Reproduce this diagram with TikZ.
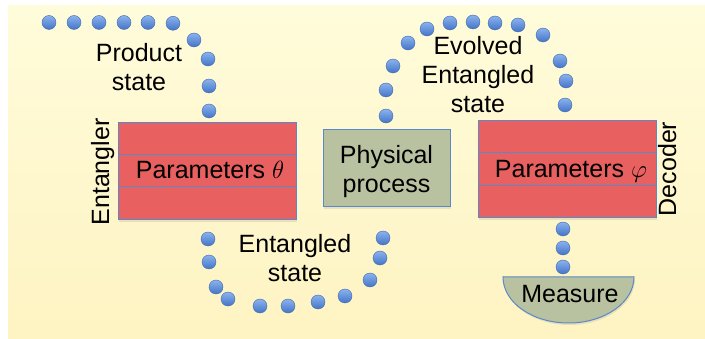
\documentclass[tikz,border=0pt]{standalone}
\usepackage{fontspec}
\setmainfont{Liberation Sans}
\usetikzlibrary{shadows}
\definecolor{bgtop}{HTML}{FFFCDB}
\definecolor{bgbot}{HTML}{FEF3C2}
\definecolor{blockred}{HTML}{E8605F}
\definecolor{edgeblue}{HTML}{5B88C8}
\definecolor{olivebox}{HTML}{B9C2A0}
\definecolor{dottop}{HTML}{8CB3EE}
\definecolor{dotbot}{HTML}{4374C6}
\definecolor{dotedge}{HTML}{3E6AB2}
\tikzset{
  lbl/.style={font=\fontsize{25}{29}\selectfont, inner sep=0pt, align=center},
  band/.style={draw=edgeblue, line width=1pt, fill=blockred, minimum width=178pt, inner sep=0pt,
     drop shadow={opacity=0.18, shadow xshift=1pt, shadow yshift=-2pt}},
  procbox/.style={draw=edgeblue, line width=1pt, fill=olivebox, inner sep=0pt,
     drop shadow={opacity=0.18, shadow xshift=1pt, shadow yshift=-2pt}},
  qubit/.style={circle, minimum size=14pt, inner sep=0pt, draw=dotedge, line width=0.4pt,
     top color=dottop, bottom color=dotbot},
}
\begin{document}
\begin{tikzpicture}[x=1pt, y=-1pt]
\useasboundingbox (0,0) rectangle (705,339);
\shade[top color=bgtop, bottom color=bgbot] (8,6) rectangle (705,339);

% Entangler block
\node[band, minimum height=32pt] (ent1) at (207,139) {};
\node[band, minimum height=32pt] (ent2) at (207,171) {};
\node[band, minimum height=33pt] (ent3) at (207,203.5) {};
\node[lbl, anchor=base] (entp) at (210,179) {Parameters $\theta$};
\node[lbl, rotate=90, anchor=base] (entl) at (109,172) {Entangler};

% Physical process
\node[procbox, minimum width=127pt, minimum height=77pt] (phys) at (386.5,168.5) {};
\node[lbl] (physt) at (386.5,172) {Physical\\process};

% Decoder block
\node[band, minimum height=32pt] (dec1) at (567,137) {};
\node[band, minimum height=33pt] (dec2) at (567,169.5) {};
\node[band, minimum height=32pt] (dec3) at (567,202) {};
\node[lbl, anchor=base] (decp) at (571,178) {Parameters $\varphi$};
\node[lbl, rotate=90, anchor=base] (decl) at (676,169) {Decoder};

% Measure
\coordinate (mL) at (503,277);
\coordinate (mR) at (634,277);
\filldraw[draw=edgeblue, line width=1pt, fill=olivebox,
   drop shadow={opacity=0.18, shadow xshift=1pt, shadow yshift=-2pt}]
  (mL) -- (mR) .. controls (634,302.4) and (604.7,323) .. (568.5,323)
  .. controls (532.3,323) and (503,302.4) .. (mL) -- cycle;
\node[lbl, anchor=base] (meas) at (570,303) {Measure};

% state labels
\node[lbl] (prod) at (139,67) {Product\\state};
\node[lbl] (evol) at (478,75) {Evolved\\Entangled\\state};
\node[lbl] (entst) at (295,258) {Entangled\\state};

% qubit dots: product state
\foreach \x/\y [count=\i] in {49/22.5,74/22.5,99/22.5,124/22.5,148/22.5,173/23.3,194/40,208/59,209/86,209/111}
  \node[qubit] (p\i) at (\x,\y) {};
% entangled state
\foreach \x/\y [count=\i] in {208/239,209/262,216/287,228/299,260/306,288/306,318/302,345/296,370/280,380/258,383/238}
  \node[qubit] (e\i) at (\x,\y) {};
% evolved entangled state
\foreach \x/\y [count=\i] in {386/116,386/90,393/66,408/43,427/29,450/23,473/22,495/23,518/25,543/35,560/61,566/81,565/105}
  \node[qubit] (v\i) at (\x,\y) {};
% to measurement
\foreach \y [count=\i] in {229,248,267}
  \node[qubit] (m\i) at (563,\y) {};
\end{tikzpicture}
\end{document}
